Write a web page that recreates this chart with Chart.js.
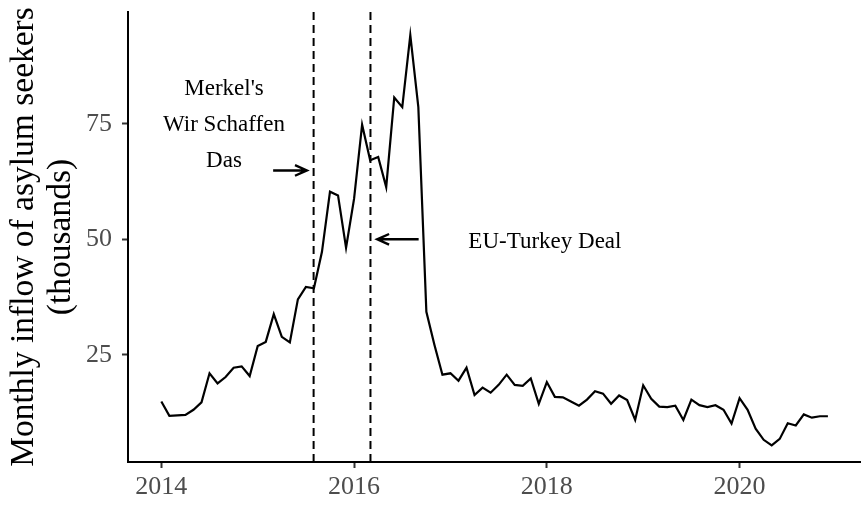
<!DOCTYPE html>
<html>
<head>
<meta charset="utf-8">
<script src="https://cdn.jsdelivr.net/npm/chart.js@4.4.1/dist/chart.umd.min.js"></script>
<style>
  html, body { margin: 0; padding: 0; background: #fff; }
  #wrap { width: 861px; height: 506px; }
</style>
</head>
<body>
<div id="wrap"><canvas id="inflowChart"></canvas></div>
<script>
// monthly inflow of asylum seekers (thousands), Jan 2014 .. Dec 2020
const startYear = 2014;
const inflow = [
    14.9, 11.8, 11.9, 12.0, 13.1, 14.7, 21.0, 18.8, 20.2, 22.2, 22.5, 20.4,
    26.9, 27.8, 33.8, 28.9, 27.7, 37.0, 39.7, 39.4, 47.3, 60.3, 59.5, 48.2,
    58.8, 74.8, 67.1, 67.8, 61.3, 80.7, 78.6, 94.2, 78.6, 34.3, 27.2, 20.7,
    21.0, 19.4, 22.2, 16.3, 17.9, 16.8, 18.5, 20.7, 18.5, 18.3, 19.9, 14.4,
    19.1, 15.9, 15.8, 14.9, 14.0, 15.3, 17.1, 16.6, 14.4, 16.2, 15.2, 10.9,
    18.4, 15.5, 13.8, 13.7, 14.0, 10.9, 15.3, 14.1, 13.7, 14.1, 13.1, 10.1,
    15.6, 13.1, 9.0, 6.6, 5.4, 6.8, 10.2, 9.7, 12.1, 11.4, 11.7, 11.7
];
const xTicks = [2014, 2016, 2018, 2020];
const yTicks = [25, 50, 75];
const eventYears = [2015.58, 2016.17];   // Merkel speech, EU-Turkey deal

const Y_MIN = 1.8, Y_MAX = 99.2;
const serif = "'Liberation Serif', 'Times New Roman', serif";

const points = inflow.map((v, i) => ({ x: startYear + i / 12, y: v }));

function arrow(ctx, x0, y0, x1, y1) {
    const a = Math.atan2(y1 - y0, x1 - x0);
    const len = 13, spread = 0.42;
    ctx.beginPath();
    ctx.moveTo(x0, y0);
    ctx.lineTo(x1, y1);
    ctx.moveTo(x1 - len * Math.cos(a - spread), y1 - len * Math.sin(a - spread));
    ctx.lineTo(x1, y1);
    ctx.lineTo(x1 - len * Math.cos(a + spread), y1 - len * Math.sin(a + spread));
    ctx.stroke();
}

/* text labels and arrows next to the event lines */
const notes = {
    id: "notes",
    afterDatasetsDraw(chart) {
        const { ctx, scales: { x, y } } = chart;
        ctx.save();
        ctx.fillStyle = "#000";
        ctx.strokeStyle = "#000";
        ctx.lineWidth = 2.4;
        ctx.font = "23px " + serif;
        ctx.textAlign = "center";
        ctx.textBaseline = "middle";

        const merkel = ["Merkel's", "Wir Schaffen", "Das"];
        const cx = x.getPixelForValue(2014.65), cy = y.getPixelForValue(74.7);
        merkel.forEach((t, i) => ctx.fillText(t, cx, cy + (i - 1) * 36));
        ctx.fillText("EU-Turkey Deal", x.getPixelForValue(2017.98), y.getPixelForValue(49.5));

        arrow(ctx, x.getPixelForValue(2015.16), y.getPixelForValue(64.9),
                   x.getPixelForValue(2015.51), y.getPixelForValue(64.9));
        arrow(ctx, x.getPixelForValue(2016.67), y.getPixelForValue(50),
                   x.getPixelForValue(2016.24), y.getPixelForValue(50));
        ctx.restore();
    }
};

const eventSets = eventYears.map(yr => ({
    data: [{ x: yr, y: Y_MIN }, { x: yr, y: Y_MAX }],
    borderColor: "#000",
    borderWidth: 2,
    borderDash: [8, 5],
    pointRadius: 0
}));

new Chart(document.getElementById("inflowChart"), {
    type: "line",
    data: {
        datasets: [{
            data: points,
            borderColor: "#000",
            borderWidth: 2.2,
            pointRadius: 0,
            tension: 0
        }, ...eventSets]
    },
    options: {
        responsive: true,
        maintainAspectRatio: false,
        animation: false,
        layout: { padding: { top: 12, right: 0, left: 0, bottom: 0 } },
        plugins: {
            legend: { display: false },
            tooltip: { enabled: false }
        },
        scales: {
            x: {
                type: "linear",
                min: 2013.654,
                max: 2021.26,
                afterBuildTicks: s => { s.ticks = xTicks.map(v => ({ value: v })); },
                afterFit: s => { s.height = 44; s.paddingLeft = 0; s.paddingRight = 0; },
                ticks: {
                    font: { family: serif, size: 26 },
                    color: "#4d4d4d",
                    padding: 4,
                    maxRotation: 0,
                    callback: v => String(v)
                },
                grid: { drawOnChartArea: false, tickLength: 6, tickColor: "#333", tickWidth: 2 },
                border: { color: "#000", width: 2 }
            },
            y: {
                min: Y_MIN,
                max: Y_MAX,
                afterBuildTicks: s => { s.ticks = yTicks.map(v => ({ value: v })); },
                afterFit: s => { s.width = 128; s.paddingTop = 0; s.paddingBottom = 0; },
                ticks: {
                    font: { family: serif, size: 26 },
                    color: "#4d4d4d",
                    padding: 10
                },
                grid: { drawOnChartArea: false, tickLength: 6, tickColor: "#333", tickWidth: 2 },
                border: { color: "#000", width: 2 },
                title: {
                    display: true,
                    text: ["Monthly inflow of asylum seekers", "(thousands)"],
                    font: { family: serif, size: 33.5, lineHeight: 1.1 },
                    color: "#000",
                    padding: { top: 6, bottom: 0 }
                }
            }
        }
    },
    plugins: [notes]
});
</script>
</body>
</html>
